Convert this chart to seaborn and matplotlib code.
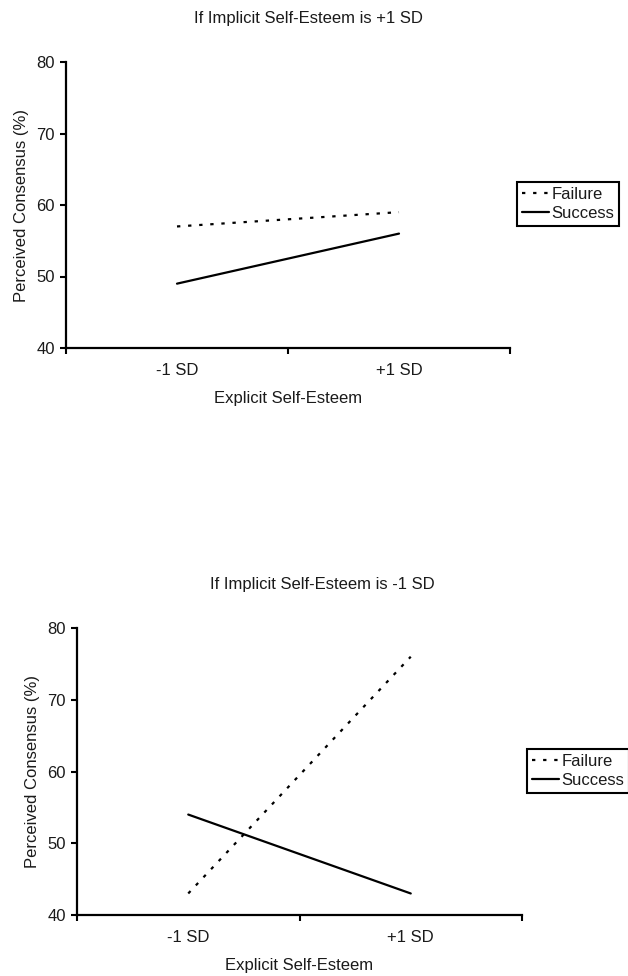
import matplotlib
matplotlib.use("Agg")
import matplotlib.pyplot as plt
from matplotlib.ticker import FixedLocator
import seaborn as sns
import pandas as pd

# ---- data ----
categories = ["-1 SD", "+1 SD"]
conditions = ["Failure", "Success"]
failure_high = [57, 59]
success_high = [49, 56]
failure_low = [43, 76]
success_low = [54, 43]
titles = ["If Implicit Self-Esteem is +1 SD", "If Implicit Self-Esteem is -1 SD"]
y_ticks = [40, 50, 60, 70, 80]
x_label = "Explicit Self-Esteem"
y_label = "Perceived Consensus (%)"

sns.set_theme(style="ticks")
plt.rcParams['font.family'] = ['Liberation Sans', 'DejaVu Sans']
TXT = "#1a1a1a"
FS = 12

fig = plt.figure(figsize=(6.28, 9.76), dpi=100)


def panel(rect, title, fail, succ, title_x, legend_anchor):
    ax = fig.add_axes(rect)
    df = pd.DataFrame({
        "Explicit": categories * 2,
        "Consensus": list(fail) + list(succ),
        "Outcome": [conditions[0]] * len(categories) + [conditions[1]] * len(categories),
    })
    sns.lineplot(data=df, x="Explicit", y="Consensus", style="Outcome",
                 style_order=conditions,
                 dashes={"Failure": (1.5, 3.5), "Success": ""},
                 color="black", linewidth=1.6, ax=ax, sort=False,
                 estimator=None)
    ax.set_xlim(-0.5, len(categories) - 0.5)
    ax.set_ylim(y_ticks[0], y_ticks[-1])
    ax.set_yticks(y_ticks)
    ax.xaxis.set_minor_locator(FixedLocator([-0.5, 0.5, 1.5]))
    ax.tick_params(axis="x", which="major", length=0, pad=11, labelsize=FS, labelcolor=TXT)
    ax.tick_params(axis="x", which="minor", length=4.5, width=1.5, direction="out", color="black")
    ax.tick_params(axis="y", which="major", length=4, width=1.5, pad=4, labelsize=FS, labelcolor=TXT, color="black")
    for s in ["top", "right"]:
        ax.spines[s].set_visible(False)
    for s in ["left", "bottom"]:
        ax.spines[s].set_linewidth(1.6)
        ax.spines[s].set_color("black")
    ax.set_xlabel(x_label, fontsize=FS, color=TXT, labelpad=9)
    ax.set_ylabel(y_label, fontsize=FS, color=TXT, labelpad=5)
    ax.set_title(title, fontsize=FS, color=TXT, x=title_x, pad=28)
    handles, labels = ax.get_legend_handles_labels()
    leg = ax.legend(handles, labels, loc="upper left", bbox_to_anchor=legend_anchor,
                    bbox_transform=fig.transFigure, frameon=True, fancybox=False,
                    edgecolor="black", framealpha=1, borderpad=0.3,
                    labelspacing=0.25, handlelength=1.6, handletextpad=0.15,
                    borderaxespad=0, fontsize=FS)
    leg.get_frame().set_linewidth(1.5)
    for t in leg.get_texts():
        t.set_color(TXT)
    return ax


panel([66 / 628, 1 - 348 / 976, 444 / 628, 286 / 976], titles[0],
      failure_high, success_high, 0.545, (517 / 628, 1 - 182 / 976))
panel([77 / 628, 1 - 915 / 976, 445 / 628, 287 / 976], titles[1],
      failure_low, success_low, 0.551, (527 / 628, 1 - 749 / 976))

fig.savefig("out.png", dpi=100)
